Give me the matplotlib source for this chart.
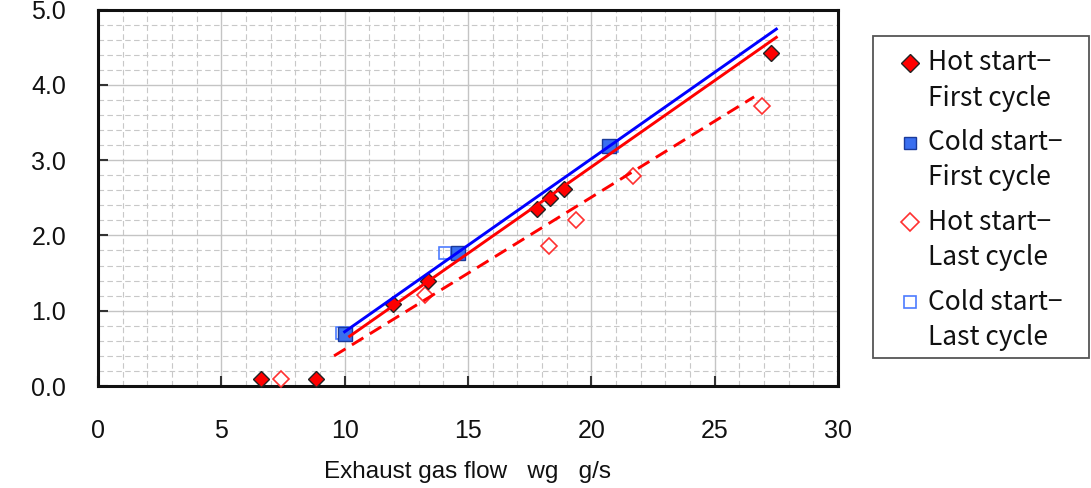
import matplotlib
matplotlib.use("Agg")
import matplotlib.pyplot as plt
from matplotlib.lines import Line2D
from matplotlib.patches import Rectangle
import numpy as np

# ---- data ----
hot_first_x = [6.62, 8.85, 11.94, 13.38, 17.81, 18.34, 18.88, 27.27]
hot_first_y = [0.09, 0.09, 1.09, 1.40, 2.35, 2.50, 2.62, 4.42]

cold_first_x = [10.0, 14.59, 20.71]
cold_first_y = [0.69, 1.77, 3.19]

hot_last_x = [7.43, 13.24, 18.27, 19.39, 21.68, 26.93]
hot_last_y = [0.09, 1.21, 1.86, 2.20, 2.79, 3.72]

cold_last_x = [9.9, 14.05, 20.85]
cold_last_y = [0.70, 1.76, 3.19]

# trend lines (end points)
trend_cold_first_x = [10.0, 27.5]
trend_cold_first_y = [0.72, 4.74]
trend_hot_first_x = [10.2, 27.5]
trend_hot_first_y = [0.66, 4.63]
trend_hot_last_x = [9.57, 26.6]
trend_hot_last_y = [0.40, 3.84]

x_ticks = [0, 5, 10, 15, 20, 25, 30]
y_ticks = [0.0, 1.0, 2.0, 3.0, 4.0, 5.0]
y_tick_labels = ["0.0", "1.0", "2.0", "3.0", "4.0", "5.0"]
x_label = "Exhaust gas flow   wg   g/s"
legend_labels = ["Hot start\u2212\nFirst cycle", "Cold start\u2212\nFirst cycle",
                 "Hot start\u2212\nLast cycle", "Cold start\u2212\nLast cycle"]

# ---- figure ----
W, H = 1091, 488
fig = plt.figure(figsize=(W / 100, H / 100), dpi=100)
ax = fig.add_axes([98 / W, 1 - 386 / H, (838 - 98) / W, (386 - 9.5) / H])

ax.set_xlim(0, 30)
ax.set_ylim(0, 5)
ax.set_xticks(x_ticks)
ax.set_yticks(y_ticks)
ax.set_yticklabels(y_tick_labels)
ax.set_xticks(np.arange(0, 31, 1), minor=True)
ax.set_yticks(np.arange(0, 5.01, 0.2), minor=True)

ax.grid(which="major", color="#c4c4c4", linewidth=1.0, linestyle="-", zorder=0)
ax.grid(which="minor", color="#c8c8c8", linewidth=0.8, linestyle=(0, (5, 3)), zorder=0)
ax.set_axisbelow(True)

ax.tick_params(which="major", direction="in", length=7, width=1.5, color="#333333",
               labelsize=18, labelcolor="#111111")
ax.tick_params(which="minor", length=0)
ax.tick_params(axis="x", pad=24)
ax.tick_params(axis="y", pad=23)
for lab in ax.get_xticklabels() + ax.get_yticklabels():
    lab.set_family(["Liberation Sans", "DejaVu Sans"])
for sp in ax.spines.values():
    sp.set_linewidth(2.2)
    sp.set_color("#111111")

ax.set_xlabel(x_label, fontsize=17.5, family=["Liberation Sans", "DejaVu Sans"],
              labelpad=13, color="#111111")

# series
styles = [
    dict(marker="D", ms=8.2, mfc="#ff0000", mec="#222222", mew=1.0),
    dict(marker="s", ms=10.5, mfc="#3a6ff0", mec="#1a3a9a", mew=1.0),
    dict(marker="D", ms=8.6, mfc="white", mec="#ff3030", mew=1.2),
    dict(marker="s", ms=8.6, mfc="none", mec="#4d7cff", mew=1.2),
]
ax.plot(cold_last_x, cold_last_y, ls="none", zorder=3, clip_on=False, **styles[3])
ax.plot(hot_last_x, hot_last_y, ls="none", zorder=3, clip_on=False, **styles[2])
ax.plot(cold_first_x, cold_first_y, ls="none", zorder=4, clip_on=False, **styles[1])
ax.plot(hot_first_x, hot_first_y, ls="none", zorder=4, clip_on=False, **styles[0])

ax.plot(trend_hot_last_x, trend_hot_last_y, color="#ff0000", lw=2.1,
        ls=(0, (4.6, 2.6)), zorder=5, dash_capstyle="butt")
ax.plot(trend_hot_first_x, trend_hot_first_y, color="#ff0000", lw=2.1, zorder=5)
ax.plot(trend_cold_first_x, trend_cold_first_y, color="#0000ff", lw=2.1, zorder=5)

# ---- legend (manual, to match layout) ----
fig.add_artist(Rectangle((873 / W, 1 - 358 / H), (1089 - 873) / W, (358 - 36) / H,
                         transform=fig.transFigure, facecolor="white",
                         edgecolor="#555555", linewidth=1.3))
leg_ms = [9.0, 9.2, 8.8, 9.2]
for i, (lab, st) in enumerate(zip(legend_labels, styles)):
    y1 = 63 + 79.7 * i
    st2 = dict(st)
    st2["ms"] = leg_ms[i]
    fig.add_artist(Line2D([910 / W], [1 - y1 / H], transform=fig.transFigure,
                          ls="none", **st2))
    l1, l2 = lab.split("\n")
    fig.text(928 / W, 1 - y1 / H, l1, fontsize=19, va="center", ha="left",
             family=["Noto Sans CJK JP", "DejaVu Sans"], color="#111111")
    fig.text(928 / W, 1 - (y1 + 35) / H, l2, fontsize=19, va="center", ha="left",
             family=["Noto Sans CJK JP", "DejaVu Sans"], color="#111111")

fig.savefig("out.png", dpi=100)
